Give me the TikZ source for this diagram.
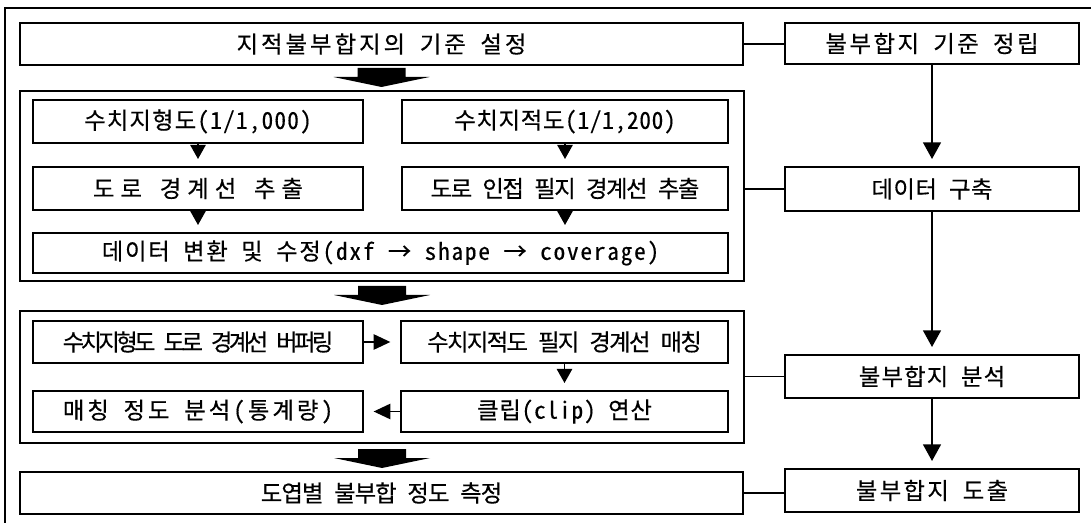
\documentclass[tikz,border=0pt]{standalone}
\usepackage{fontspec}
\setmainfont{Noto Sans Mono CJK KR}[FakeBold=0.4]
\usetikzlibrary{arrows.meta,calc}
\tikzset{
  box/.style={draw=black, line width=1.1pt, inner sep=0pt, outer sep=0pt, fill=white,
    font=\fontsize{17.5pt}{20pt}\selectfont, align=center},
  ls/.style={font=\fontsize{17.5pt}{20pt}\selectfont\addfontfeature{LetterSpace=#1}},
  grp/.style={draw=black, line width=1.2pt, inner sep=0pt, outer sep=0pt},
  link/.style={line width=1.1pt},
  tri/.style={line width=1.1pt, -{Triangle[length=10.5pt,width=11.5pt]}, shorten >=6pt},
  harr/.style={line width=1.1pt, -{Triangle[length=12.5pt,width=11.5pt]}, shorten >=8pt},
  varr/.style={line width=1.1pt, -{Triangle[length=12.5pt,width=13.5pt]}, shorten >=6pt},
}
\newcommand\bx[7][box]{\node[#1, minimum width={(#5-#3)*0.75pt}, minimum height={(#6-#4)*0.75pt}] (#2) at ({(#3+#5)/2},{(#4+#6)/2}) {#7};}
\newcommand\blockarrow[1]{\fill[black] (#1) ++(-24,0) -- ++(48,0) -- ++(0,9) -- ++(24,0) -- ++(-48,10) -- ++(-48,-10) -- ++(24,0) -- cycle;}
\begin{document}
\begin{tikzpicture}[x=0.75pt,y=-0.75pt]
\useasboundingbox[fill=white] (0,0) rectangle (1091,523);
% outer frame (top and left edges)
\coordinate (o1) at (5,523);
\coordinate (o2) at (5,8);
\coordinate (o3) at (1091,8);
\draw[line width=1.2pt] (o1) -- (o2) -- (o3);
% left column
\bx[box,ls=13]{A}{20}{23}{743}{65}{지적불부합지의 기준 설정}
\bx[grp]{G1}{20}{91}{744}{281}{}
\bx[box,ls=5]{B1}{33}{100}{363}{143}{수치지형도(1/1,000)}
\bx[box,ls=3]{B2}{402}{100}{728}{143}{수치지적도(1/1,200)}
\bx[box,ls=26]{B3}{33}{167}{363}{210}{도로 경계선 추출}
\bx[box,ls=-6]{B4}{402}{167}{728}{210}{도로 인접 필지 경계선 추출}
\bx[box,ls=7.5]{B5}{33}{233}{728}{273}{데이터 변환 및 수정(dxf → shape → coverage)}
\bx[grp]{G2}{20}{311}{744}{443}{}
\bx[box,ls=-15.5]{C1}{33}{321}{363}{363}{수치지형도 도로 경계선 버퍼링}
\bx[box,ls=-7]{C2}{401}{321}{728}{363}{수치지적도 필지 경계선 매칭}
\bx[box,ls=3.5]{C3}{401}{391}{728}{432}{클립(clip) 연산}
\bx[box,ls=13]{C4}{33}{391}{363}{432}{매칭 정도 분석(통계량)}
\bx[box,ls=-4]{D}{20}{472}{743}{514}{도엽별 불부합 정도 측정}
% right column
\bx[box,ls=11]{R1}{785}{23}{1079}{64}{불부합지 기준 정립}
\bx[box,ls=2]{R2}{785}{167}{1079}{211}{데이터 구축}
\bx[box,ls=5]{R3}{785}{355}{1079}{398}{불부합지 분석}
\bx[box,ls=10]{R4}{785}{469}{1079}{512}{불부합지 도출}
% block arrows
\path (A.south) ++(0,3) coordinate (ba1);
\path (G1.south) ++(0,5) coordinate (ba2);
\path (G2.south) ++(0,6) coordinate (ba3);
\blockarrow{ba1}
\blockarrow{ba2}
\blockarrow{ba3}
% small arrows inside groups
\draw[tri] (B1.south) -- (B3.north);
\draw[tri] (B2.south) -- (B4.north);
\draw[tri] (B3.south) -- (B3.south |- B5.north);
\draw[tri] (B4.south) -- (B4.south |- B5.north);
\draw[tri] (C2.south) -- (C3.north);
\draw[harr] (C1.east) -- (C2.west);
\draw[harr] (C3.west) -- (C4.east);
% links to right column
\draw[link] (A.east) -- (A.east -| R1.west);
\draw[link] (G1.east |- R2.west) -- (R2.west);
\draw[link] (G2.east |- R3.west) -- (R3.west);
\draw[link] (D.east) -- (D.east -| R4.west);
% right column arrows
\draw[varr] (R1.south) -- (R2.north);
\draw[varr] (R2.south) -- (R3.north);
\draw[varr] (R3.south) -- (R4.north);
\end{tikzpicture}
\end{document}
